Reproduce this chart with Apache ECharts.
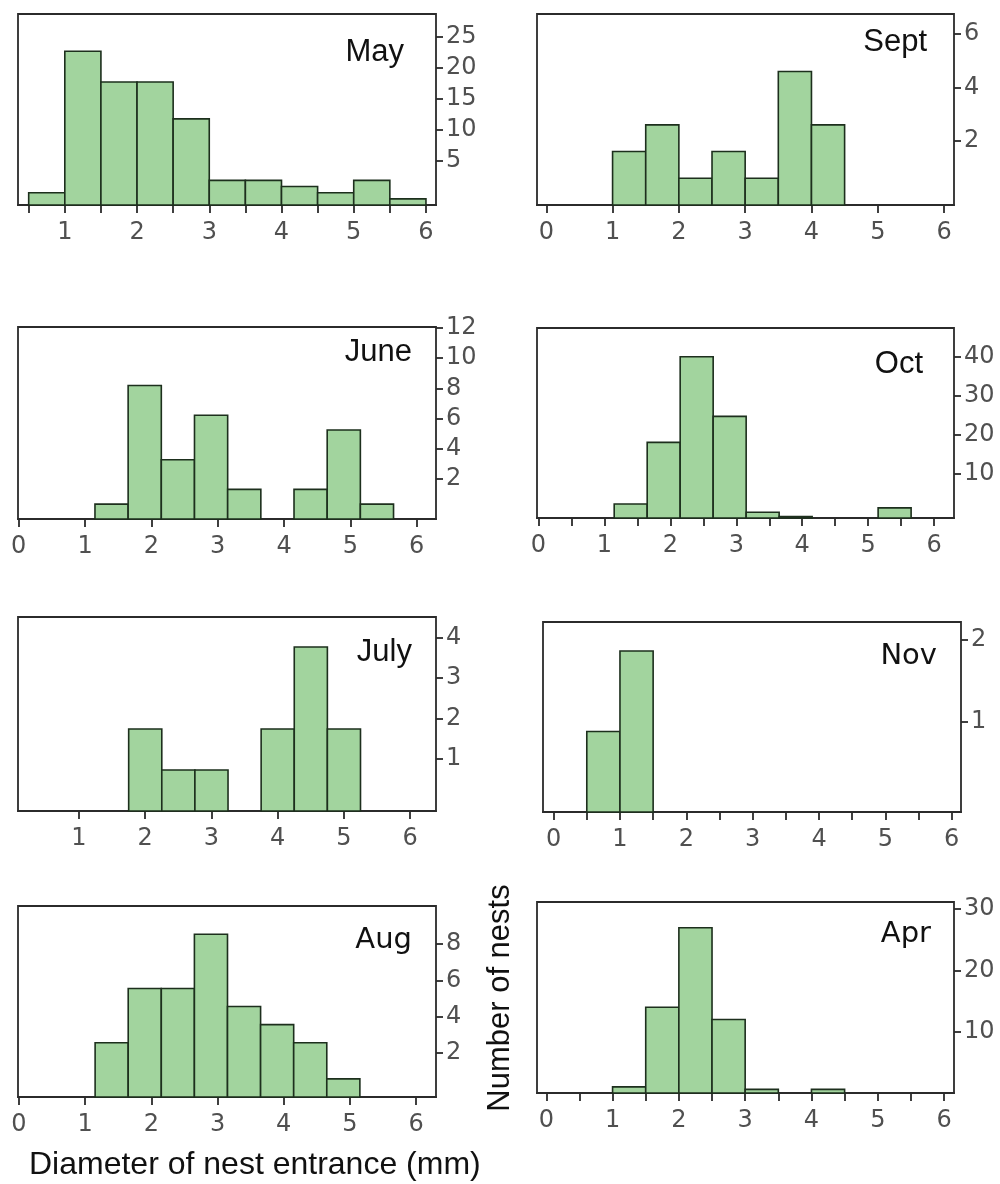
<!DOCTYPE html>
<html><head><meta charset="utf-8">
<script src="https://cdn.jsdelivr.net/npm/echarts@6/dist/echarts.min.js"></script>
<style>html,body{margin:0;padding:0;background:#fff}#c{width:1000px;height:1184px}</style>
</head><body><div id="c"></div>
<script>
// ---------- data ----------
const binWidth = 0.5;
const mayEdges  = [0.5, 1, 1.5, 2, 2.5, 3, 3.5, 4, 4.5, 5, 5.5];
const mayCounts = [2, 25, 20, 20, 14, 4, 4, 3, 2, 4, 1];
const septEdges  = [1, 1.5, 2, 2.5, 3, 3.5, 4];
const septCounts = [2, 3, 1, 2, 1, 5, 3];
const juneEdges  = [1.15, 1.65, 2.15, 2.65, 3.15, 3.65, 4.15, 4.65, 5.15];
const juneCounts = [1, 9, 4, 7, 2, 0, 2, 6, 1];
const octEdges  = [1.15, 1.65, 2.15, 2.65, 3.15, 3.65, 4.15, 4.65, 5.15];
const octCounts = [3.6, 19.5, 41.6, 26.2, 1.5, 0.4, 0, 0, 2.6];
const julyEdges  = [1.75, 2.25, 2.75, 3.25, 3.75, 4.25, 4.75];
const julyCounts = [2, 1, 1, 0, 2, 4, 2];
const novEdges  = [0.5, 1];
const novCounts = [1, 2];
const augEdges  = [1.15, 1.65, 2.15, 2.65, 3.15, 3.65, 4.15, 4.65];
const augCounts = [3, 6, 6, 9, 5, 4, 3, 1];
const aprEdges  = [1, 1.5, 2, 2.5, 3, 3.5, 4];
const aprCounts = [1, 14, 27, 12, 0.6, 0, 0.6];

// tick labels
const xLabels0to6 = [0, 1, 2, 3, 4, 5, 6];
const xLabels1to6 = [1, 2, 3, 4, 5, 6];
const xTicksHalf0 = [0, 0.5, 1, 1.5, 2, 2.5, 3, 3.5, 4, 4.5, 5, 5.5, 6];
const xTicksHalf05 = [0.5, 1, 1.5, 2, 2.5, 3, 3.5, 4, 4.5, 5, 5.5, 6];
const mayYTicks  = [5, 10, 15, 20, 25];
const septYTicks = [2, 4, 6];
const juneYTicks = [2, 4, 6, 8, 10, 12];
const octYTicks  = [10, 20, 30, 40];
const julyYTicks = [1, 2, 3, 4];
const novYTicks  = [1, 2];
const augYTicks  = [2, 4, 6, 8];
const aprYTicks  = [10, 20, 30];

const xTitle = 'Diameter of nest entrance (mm)';
const yTitle = 'Number of nests';

// ---------- layout ----------
const SANS = "'Liberation Sans', Arial, sans-serif";
const DEJA = "'DejaVu Sans', sans-serif";
// box: [left, top, right, bottom] px; yPix: pixel rows of the first and last printed count tick
const panels = [
  {name:'May',  edges:mayEdges,  counts:mayCounts,  yTicks:mayYTicks,  xTicks:xTicksHalf05, xLabels:xLabels1to6,
   box:[18,14,436,205], xr:[0.352,6.139], barMax:31.06, yPix:[161,37], tRight:404, tTop:37, tFont:SANS, tSize:31},
  {name:'Sept', edges:septEdges, counts:septCounts, yTicks:septYTicks, xTicks:xLabels0to6, xLabels:xLabels0to6,
   box:[537,14,954,205], xr:[-0.14,6.15], barMax:7.15, yPix:[141,34], tRight:927, tTop:27, tFont:SANS, tSize:31},
  {name:'June', edges:juneEdges, counts:juneCounts, yTicks:juneYTicks, xTicks:xLabels0to6, xLabels:xLabels0to6,
   box:[18,327,436,519], xr:[-0.01,6.29], barMax:12.95, yPix:[479,328], tRight:412, tTop:337, tFont:SANS, tSize:31},
  {name:'Oct',  edges:octEdges,  counts:octCounts,  yTicks:octYTicks,  xTicks:xTicksHalf0, xLabels:xLabels0to6,
   box:[537,328,954,518], xr:[-0.02,6.30], barMax:49, yPix:[474,356.7], tRight:923, tTop:349, tFont:SANS, tSize:31},
  {name:'July', edges:julyEdges, counts:julyCounts, yTicks:julyYTicks, xTicks:xLabels1to6, xLabels:xLabels1to6,
   box:[18,617,436,811], xr:[0.079,6.39], barMax:4.73, yPix:[759,637.3], tRight:412, tTop:637, tFont:SANS, tSize:31},
  {name:'Nov',  edges:novEdges,  counts:novCounts,  yTicks:novYTicks,  xTicks:xTicksHalf0, xLabels:xLabels0to6,
   box:[543,622,961,812], xr:[-0.16,6.14], barMax:2.36, yPix:[721.7,640], tRight:937, tTop:642, tFont:DEJA, tSize:29},
  {name:'Aug',  edges:augEdges,  counts:augCounts,  yTicks:augYTicks,  xTicks:xLabels0to6, xLabels:xLabels0to6,
   box:[18,906,436,1097], xr:[-0.015,6.3], barMax:10.56, yPix:[1053,944], tRight:412, tTop:926, tFont:DEJA, tSize:29},
  {name:'Apr',  edges:aprEdges,  counts:aprCounts,  yTicks:aprYTicks,  xTicks:xTicksHalf0, xLabels:xLabels0to6,
   box:[537,902,954,1093], xr:[-0.14,6.15], barMax:31.2, yPix:[1032,909], tRight:931, tTop:920, tFont:DEJA, tSize:29}
];

const AX = '#2b2b2b';
const TICKCOL = '#505050';
const TICKFONT = 24;
const grids = [], xAxes = [], yAxes = [], series = [], titles = [];

panels.forEach((p) => {
  const [x0, y0, x1, y1] = p.box;
  const gBar = grids.length;
  grids.push({left:x0, top:y0, width:x1-x0, height:y1-y0, show:true, borderColor:AX, borderWidth:1.8, containLabel:false});
  xAxes.push({gridIndex:gBar, type:'value', min:p.xr[0], max:p.xr[1],
    axisLine:{show:true, onZero:false, lineStyle:{color:AX, width:1.8}},
    axisTick:{show:true, customValues:p.xTicks, length:8, lineStyle:{color:AX, width:1.8}},
    axisLabel:{show:true, customValues:p.xLabels, color:TICKCOL, fontSize:TICKFONT, fontFamily:DEJA, margin:16},
    splitLine:{show:false}});
  yAxes.push({gridIndex:gBar, type:'value', min:0, max:p.barMax, show:false, axisLine:{onZero:false}, splitLine:{show:false}});

  // printed count scale (as drawn in the reference, on the right side)
  const gLab = grids.length;
  const t0 = p.yTicks[0], t1 = p.yTicks[p.yTicks.length - 1];
  const step = p.yTicks[1] - p.yTicks[0];
  grids.push({left:x0, top:p.yPix[1], width:x1-x0, height:p.yPix[0]-p.yPix[1], show:false, containLabel:false});
  xAxes.push({gridIndex:gLab, type:'value', min:1, max:2, show:false, axisLine:{onZero:false}});
  yAxes.push({gridIndex:gLab, type:'value', position:'right', min:t0, max:t1, interval:step,
    axisLine:{show:false, onZero:false},
    axisTick:{show:true, inside:false, length:7, lineStyle:{color:AX, width:1.8}},
    axisLabel:{show:true, color:TICKCOL, fontSize:TICKFONT, fontFamily:DEJA, margin:10},
    splitLine:{show:false}});

  const data = p.edges.map((e, k) => [e, e + binWidth, p.counts[k]]).filter(d => d[2] > 0);
  series.push({type:'custom', xAxisIndex:gBar, yAxisIndex:gBar, clip:false,
    encode:{x:[0,1], y:2},
    renderItem:function(params, api){
      const a = api.coord([api.value(0), api.value(2)]);
      const b = api.coord([api.value(1), 0]);
      return {type:'rect', shape:{x:a[0], y:a[1], width:b[0]-a[0], height:b[1]-a[1]},
        style:{fill:'#a2d49e', stroke:'#1d2f1d', lineWidth:1.6}};
    },
    data:data, silent:true});
  series.push({type:'line', xAxisIndex:gLab, yAxisIndex:gLab, data:[], silent:true});

  titles.push({text:p.name, right:1000-p.tRight, top:p.tTop, padding:0,
    textStyle:{fontSize:p.tSize, fontWeight:'normal', color:'#111', fontFamily:p.tFont}});
});

titles.push({text:xTitle, left:29, top:1149, padding:0,
  textStyle:{fontSize:32, fontWeight:'normal', color:'#111', fontFamily:SANS}});

const chart = echarts.init(document.getElementById('c'), null, {renderer:'canvas'});
chart.setOption({
  animation:false,
  backgroundColor:'#fff',
  title:titles,
  grid:grids, xAxis:xAxes, yAxis:yAxes, series:series,
  graphic:[{type:'text', x:500, y:998, rotation:Math.PI/2,
    style:{text:yTitle, fontSize:31, fontFamily:SANS, fill:'#111', textAlign:'center', textVerticalAlign:'middle'}}]
});
</script></body></html>
